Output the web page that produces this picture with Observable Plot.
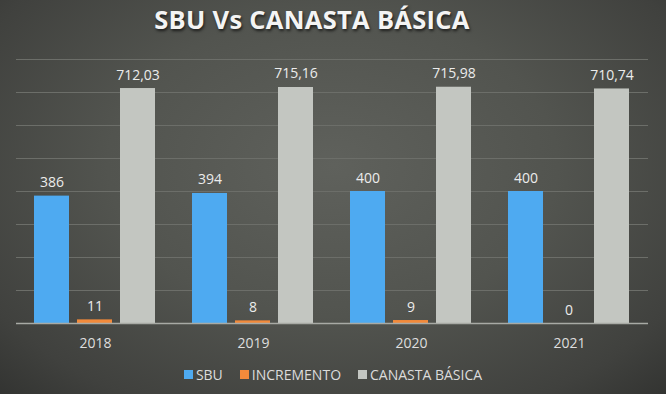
<!DOCTYPE html>
<html>
<head>
<meta charset="utf-8">
<script src="https://cdn.jsdelivr.net/npm/d3@7"></script>
<script src="https://cdn.jsdelivr.net/npm/@observablehq/plot@0.6"></script>
<style>
  html, body { margin: 0; padding: 0; background: #3a3b38; }
  #chart {
    position: relative; width: 666px; height: 394px; overflow: hidden;
    background: radial-gradient(ellipse 75% 85% at 50% 42%, #5f615c 0%, #52544f 45%, #40413e 80%, #2f302e 100%);
    font-family: "Open Sans", sans-serif;
  }
  #title {
    height: 44px; line-height: 38px; text-align: center; color: #f4f4f4;
    font-weight: 700; font-size: 25.5px; letter-spacing: 0.3px;
    text-shadow: 1px 2px 3px rgba(0,0,0,0.65);
    transform: translateX(-21px);
  }
  #plot svg { display: block; }
  #legend {
    position: absolute; left: 0; top: 363px; width: 666px; height: 22px;
    display: flex; justify-content: center; align-items: center; gap: 17px;
    color: #dcdcdc; font-size: 14px;
  }
  .item { display: flex; align-items: center; gap: 3px; }
  .sw { width: 9px; height: 9px; display: inline-block; }
</style>
</head>
<body>
<div id="chart">
  <div id="title">SBU Vs CANASTA BÁSICA</div>
  <div id="plot"></div>
  <div id="legend"></div>
</div>
<script>
const years = ["2018", "2019", "2020", "2021"];
const series = ["SBU", "INCREMENTO", "CANASTA BÁSICA"];
const sbu = [386, 394, 400, 400];
const incremento = [11, 8, 9, 0];
const canasta = [712.03, 715.16, 715.98, 710.74];
const colors = ["#4eaaf1", "#f28a3b", "#c3c6c1"];
const gridTicks = [100, 200, 300, 400, 500, 600, 700, 800];

const values = [sbu, incremento, canasta];
const data = years.flatMap((yr, i) =>
  series.map((s, j) => ({ year: yr, serie: s, value: values[j][i] }))
);
const fmt = d => d.serie === "CANASTA BÁSICA"
  ? d.value.toFixed(2).replace(".", ",")
  : String(d.value);

const chart = Plot.plot({
  width: 666,
  height: 316,
  marginTop: 15,
  marginBottom: 37,
  marginLeft: 16,
  marginRight: 18,
  style: { background: "transparent", color: "#dcdcdc", fontFamily: "Open Sans, sans-serif" },
  fx: { domain: years, padding: 0, label: null },
  x: { domain: series, paddingInner: 0.18, paddingOuter: 0.42, axis: null },
  y: { domain: [0, 800], axis: null },
  color: { domain: series, range: colors },
  marks: [
    Plot.gridY(gridTicks, { stroke: "#6c6e69", strokeOpacity: 1, strokeWidth: 1 }),
    Plot.barY(data, { fx: "year", x: "serie", y: "value", fill: "serie" }),
    Plot.ruleY([0], { stroke: "#a8aaa5", strokeWidth: 1.5 }),
    Plot.text(data, { fx: "year", x: "serie", y: "value", text: fmt, dy: -9, lineAnchor: "bottom", fill: "#ececec", fontSize: 14 }),
    Plot.axisFx({ anchor: "bottom", tickSize: 0, tickPadding: 15, fontSize: 14, fill: "#dedede", label: null })
  ]
});
document.getElementById("plot").appendChild(chart);

const legend = document.getElementById("legend");
series.forEach((s, i) => {
  const it = document.createElement("div");
  it.className = "item";
  it.innerHTML = `<span class="sw" style="background:${colors[i]}"></span><span>${s}</span>`;
  legend.appendChild(it);
});
</script>
</body>
</html>
